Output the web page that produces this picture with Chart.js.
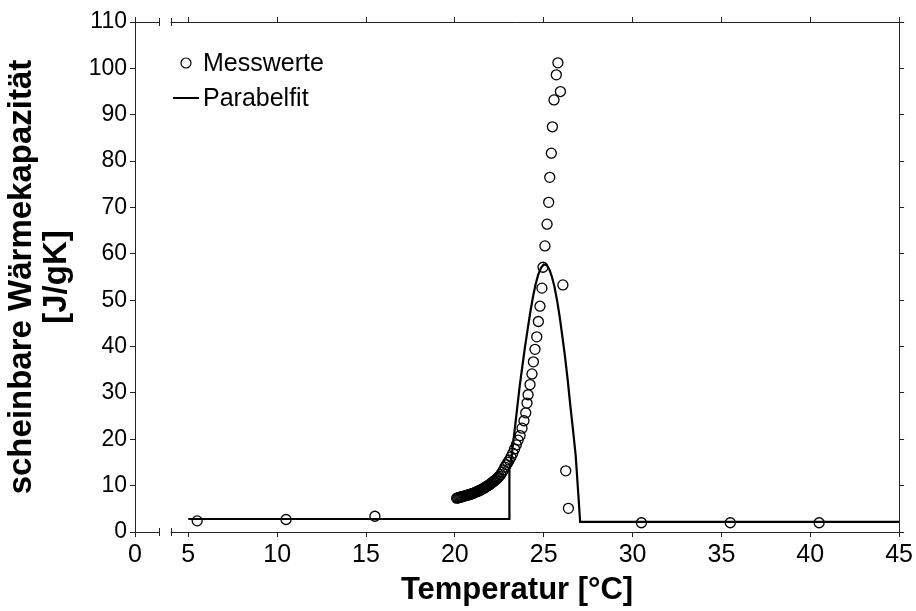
<!DOCTYPE html>
<html>
<head>
<meta charset="utf-8">
<script src="https://cdn.jsdelivr.net/npm/chart.js@4.4.1/dist/chart.umd.min.js"></script>
<style>
  html, body { margin: 0; padding: 0; background: #fff; }
  #wrap { width: 916px; height: 611px; }
</style>
</head>
<body>
<div id="wrap"><canvas id="cpChart" width="916" height="611"></canvas></div>
<script>
// Messwerte (Temperatur in °C, scheinbare Wärmekapazität in J/gK)
const measTemp = [5.5, 10.5, 15.5,
    20.10, 20.16, 20.22, 20.28, 20.34, 20.40, 20.46, 20.52, 20.58, 20.64,
    20.70, 20.76, 20.82, 20.88, 20.94, 21.00, 21.06, 21.12, 21.18, 21.24,
    21.30, 21.36, 21.42, 21.48, 21.54, 21.60, 21.66, 21.72, 21.78, 21.84,
    21.90, 21.96, 22.02, 22.08, 22.14, 22.20, 22.26, 22.32, 22.38, 22.44,
    22.50, 22.58, 22.66, 22.74, 22.82, 22.90, 22.98, 23.06, 23.16, 23.26,
    23.36, 23.46, 23.56, 23.67, 23.78, 23.89, 23.99, 24.06, 24.12, 24.23,
    24.34, 24.42, 24.51, 24.61, 24.70, 24.79, 24.90, 24.96, 25.07, 25.19,
    25.28, 25.34, 25.43, 25.49, 25.58, 25.71, 25.80, 25.94, 26.08, 26.24,
    26.39, 30.5, 35.5, 40.5];
const measCp = [2.4, 2.7, 3.4,
    7.3, 7.35, 7.4, 7.5, 7.55, 7.6, 7.7, 7.75, 7.8, 7.9,
    7.95, 8.0, 8.1, 8.15, 8.2, 8.3, 8.4, 8.5, 8.6, 8.7,
    8.8, 8.9, 9.0, 9.1, 9.25, 9.4, 9.5, 9.65, 9.8, 9.95,
    10.1, 10.25, 10.4, 10.6, 10.8, 10.95, 11.15, 11.35, 11.55, 11.8,
    12.0, 12.4, 12.9, 13.4, 14.0, 14.5, 15.0, 15.5, 16.2, 17.0,
    17.9, 18.8, 19.8, 20.8, 22.4, 24.0, 25.7, 27.8, 29.6, 31.8,
    34.1, 36.7, 39.4, 42.1, 45.4, 48.7, 52.6, 57.1, 61.7, 66.4,
    71.1, 76.5, 81.7, 87.4, 93.2, 98.6, 101.2, 95.0, 53.3, 13.2,
    5.1, 2.0, 2.0, 2.0];

// Parabelfit
const fitTemp = [5, 23.05, 23.07, 23.2, 23.35, 23.5, 23.65, 23.8, 23.95, 24.1,
    24.25, 24.4, 24.55, 24.7, 24.85, 25.0, 25.15, 25.3, 25.45, 25.6,
    25.75, 25.9, 26.05, 26.2, 26.35, 26.5, 26.65, 26.8, 26.95, 27.05, 45];
const fitCp = [2.8, 2.8, 13.5, 16.5, 21.5, 26.5, 31.5, 35.8, 40.0, 43.8,
    47.5, 50.8, 53.5, 55.6, 57.0, 57.7, 57.6, 56.8, 55.2, 53.0,
    50.0, 46.4, 42.2, 37.8, 32.8, 27.2, 22.0, 16.5, 8.0, 2.2, 2.2];

// tick labels of the broken temperature axis
const xTicks = [0, 5, 10, 15, 20, 25, 30, 35, 40, 45];

const axisZero = 2;        // where the "0" tick sits on the broken axis
const breakFrom = 3.33;    // axis break
const breakTo = 4.03;
const fontFamily = "'Liberation Sans', Arial, sans-serif";

const ctx = document.getElementById('cpChart').getContext('2d');

function toPoints(xs, ys) {
    return xs.map((x, i) => ({ x: x, y: ys[i] }));
}

function xTickBuilder(scale) {
    scale.ticks = xTicks.map(t => ({ value: t === 0 ? axisZero : t }));
}

const axisBreak = {
    id: 'axisBreak',
    afterDraw(chart) {
        const c = chart.ctx;
        const sx = chart.scales.x;
        const p1 = sx.getPixelForValue(breakFrom);
        const p2 = sx.getPixelForValue(breakTo);
        [chart.chartArea.top, chart.chartArea.bottom].forEach(y => {
            c.save();
            c.fillStyle = '#fff';
            c.fillRect(p1 + 0.5, y - 2, p2 - p1 - 1, 4);
            c.strokeStyle = '#222';
            c.lineWidth = 1;
            c.beginPath();
            c.moveTo(Math.round(p1) + 0.5, y - 4);
            c.lineTo(Math.round(p1) + 0.5, y + 4);
            c.moveTo(Math.round(p2) + 0.5, y - 4);
            c.lineTo(Math.round(p2) + 0.5, y + 4);
            c.stroke();
            c.restore();
        });
    }
};

const innerLegend = {
    id: 'innerLegend',
    afterDatasetsDraw(chart) {
        const c = chart.ctx;
        const a = chart.chartArea;
        c.save();
        c.font = '25px ' + fontFamily;
        c.fillStyle = '#000';
        c.textBaseline = 'middle';
        c.strokeStyle = '#000';
        c.lineWidth = 1.2;
        c.beginPath();
        c.arc(a.left + 51, a.top + 41, 5, 0, Math.PI * 2);
        c.stroke();
        c.fillText(chart.data.datasets[0].label, a.left + 68, a.top + 42);
        c.lineWidth = 2;
        c.beginPath();
        c.moveTo(a.left + 38, a.top + 76);
        c.lineTo(a.left + 64, a.top + 76);
        c.stroke();
        c.fillText(chart.data.datasets[1].label, a.left + 68, a.top + 77);
        c.restore();
    }
};

const sharedGrid = {
    drawOnChartArea: false,
    drawTicks: true,
    tickLength: 5,
    color: '#222',
    lineWidth: 1
};

const cpChart = new Chart(ctx, {
    type: 'scatter',
    data: {
        datasets: [{
            label: 'Messwerte',
            data: toPoints(measTemp, measCp),
            pointStyle: 'circle',
            pointRadius: 5,
            pointBorderWidth: 1.3,
            pointBorderColor: '#000',
            pointBackgroundColor: 'rgba(255,255,255,0)',
            showLine: false,
            order: 1
        }, {
            label: 'Parabelfit',
            data: toPoints(fitTemp, fitCp),
            showLine: true,
            borderColor: '#000',
            borderWidth: 2.2,
            pointRadius: 0,
            tension: 0,
            order: 2
        }]
    },
    options: {
        responsive: false,
        animation: false,
        layout: { padding: 0 },
        plugins: {
            legend: { display: false },
            tooltip: { enabled: false }
        },
        scales: {
            x: {
                type: 'linear',
                position: 'bottom',
                min: axisZero,
                max: 45,
                afterBuildTicks: xTickBuilder,
                afterFit: (scale) => { scale.height = 79; },
                grid: sharedGrid,
                border: { display: true, color: '#222', width: 1 },
                ticks: {
                    color: '#000',
                    padding: 3,
                    maxRotation: 0,
                    autoSkip: false,
                    font: { family: fontFamily, size: 25 },
                    callback: (v) => v === axisZero ? '0' : String(v)
                },
                title: {
                    display: true,
                    text: 'Temperatur [°C]',
                    color: '#000',
                    padding: { top: 0, bottom: 2 },
                    font: { family: fontFamily, size: 31, weight: 'bold' }
                }
            },
            x2: {
                type: 'linear',
                position: 'top',
                min: axisZero,
                max: 45,
                afterBuildTicks: xTickBuilder,
                afterFit: (scale) => { scale.height = 22; },
                grid: sharedGrid,
                border: { display: true, color: '#222', width: 1 },
                ticks: { display: false }
            },
            y: {
                type: 'linear',
                position: 'left',
                min: 0,
                max: 110,
                afterFit: (scale) => { scale.width = 135; },
                grid: sharedGrid,
                border: { display: true, color: '#222', width: 1 },
                ticks: {
                    stepSize: 10,
                    color: '#000',
                    padding: 3,
                    font: { family: fontFamily, size: 23 }
                },
                title: {
                    display: true,
                    text: ['scheinbare Wärmekapazität', '[J/gK]'],
                    color: '#000',
                    padding: { top: 4, bottom: 0 },
                    font: { family: fontFamily, size: 33, weight: 'bold', lineHeight: 1.07 }
                }
            },
            y2: {
                type: 'linear',
                position: 'right',
                min: 0,
                max: 110,
                afterFit: (scale) => { scale.width = 16; },
                grid: sharedGrid,
                border: { display: true, color: '#222', width: 1 },
                ticks: { stepSize: 10, display: false }
            }
        }
    },
    plugins: [axisBreak, innerLegend]
});
</script>
</body>
</html>
